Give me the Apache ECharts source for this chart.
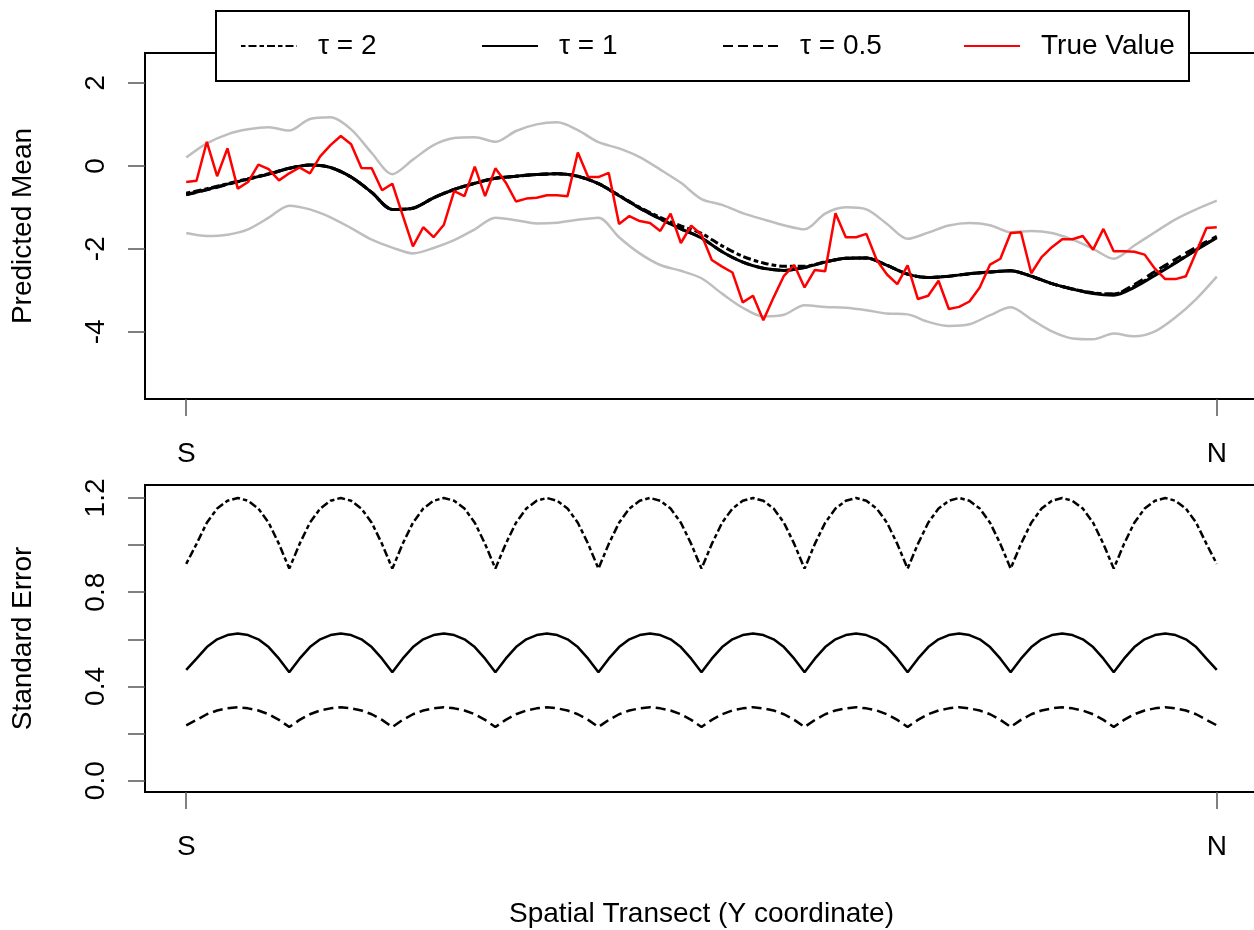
<!DOCTYPE html>
<html>
<head>
<meta charset="utf-8">
<script src="https://cdn.jsdelivr.net/npm/echarts@6/dist/echarts.min.js"></script>
<style>html,body{margin:0;padding:0;background:#fff}#c{width:1254px;height:930px}</style>
</head>
<body>
<div id="c"></div>
<script>
// ---- data (transect index 0 = S, 100 = N) ----
const tickPos = [0, 100];
const tickNames = ['S', 'N'];
const meanTicks = [-4, -2, 0, 2];
const seTicks = [0, 0.2, 0.4, 0.6, 0.8, 1.0, 1.2];
const seLabelTicks = [0, 0.4, 0.8, 1.2];

const coarsePos = [0,2,4,6,8,10,12,14,16,18,20,22,24,26,28,30,32,34,36,38,40,42,44,46,48,50,
  52,54,56,58,60,62,64,66,68,70,72,74,76,78,80,82,84,86,88,90,92,94,96,98,100];

const meanTau1 = [-0.69,-0.57,-0.44,-0.32,-0.20,-0.06,0.02,-0.04,-0.27,-0.64,-1.05,-1.02,-0.77,-0.57,-0.42,-0.30,-0.25,
  -0.21,-0.19,-0.25,-0.43,-0.72,-1.02,-1.28,-1.52,-1.74,-2.07,-2.32,-2.47,-2.52,-2.45,-2.32,-2.23,-2.22,-2.40,-2.61,
  -2.69,-2.66,-2.60,-2.56,-2.53,-2.66,-2.84,-2.97,-3.08,-3.12,-2.93,-2.64,-2.34,-2.03,-1.73];
const meanTau2 = [-0.66,-0.55,-0.43,-0.31,-0.19,-0.06,0.02,-0.04,-0.27,-0.64,-1.05,-1.02,-0.77,-0.57,-0.42,-0.30,-0.25,
  -0.21,-0.19,-0.25,-0.43,-0.71,-1.00,-1.24,-1.45,-1.63,-1.93,-2.18,-2.34,-2.42,-2.42,-2.31,-2.23,-2.22,-2.40,-2.61,
  -2.69,-2.66,-2.60,-2.56,-2.53,-2.66,-2.84,-2.97,-3.06,-3.09,-2.90,-2.62,-2.33,-2.02,-1.72];
const meanTau05 = [-0.70,-0.58,-0.45,-0.32,-0.20,-0.06,0.02,-0.04,-0.27,-0.64,-1.05,-1.02,-0.77,-0.57,-0.42,-0.30,-0.25,
  -0.21,-0.19,-0.25,-0.43,-0.72,-1.02,-1.28,-1.52,-1.74,-2.07,-2.32,-2.47,-2.52,-2.45,-2.32,-2.23,-2.22,-2.40,-2.61,
  -2.69,-2.66,-2.60,-2.56,-2.53,-2.66,-2.84,-2.97,-3.07,-3.09,-2.86,-2.55,-2.25,-1.96,-1.70];
const upperBand = [0.20,0.54,0.76,0.88,0.93,0.85,1.13,1.17,0.88,0.31,-0.20,0.15,0.50,0.67,0.69,0.58,0.84,1.00,1.05,0.86,
  0.57,0.42,0.21,-0.09,-0.41,-0.80,-0.94,-1.14,-1.29,-1.43,-1.53,-1.15,-1.00,-1.05,-1.40,-1.76,-1.61,-1.44,-1.38,-1.43,
  -1.60,-1.57,-1.62,-1.78,-2.00,-2.24,-1.92,-1.60,-1.29,-1.05,-0.84];
const lowerBand = [-1.62,-1.69,-1.66,-1.53,-1.25,-0.96,-1.05,-1.24,-1.50,-1.78,-1.97,-2.11,-1.98,-1.79,-1.53,-1.25,-1.31,
  -1.39,-1.37,-1.30,-1.25,-1.72,-2.11,-2.39,-2.53,-2.71,-3.08,-3.42,-3.63,-3.59,-3.36,-3.40,-3.42,-3.48,-3.56,-3.58,
  -3.76,-3.86,-3.82,-3.60,-3.41,-3.70,-3.99,-4.16,-4.18,-4.04,-4.11,-3.99,-3.65,-3.21,-2.67];

const trueValue = [-0.39,-0.36,0.58,-0.25,0.42,-0.55,-0.39,0.03,-0.08,-0.35,
  -0.18,-0.04,-0.18,0.23,0.50,0.72,0.52,-0.05,-0.06,-0.59,
  -0.43,-1.19,-1.94,-1.48,-1.72,-1.42,-0.61,-0.73,-0.02,-0.73,
  -0.06,-0.40,-0.86,-0.79,-0.77,-0.71,-0.71,-0.73,0.32,-0.27,
  -0.27,-0.17,-1.40,-1.21,-1.33,-1.38,-1.57,-1.15,-1.86,-1.44,
  -1.66,-2.27,-2.43,-2.57,-3.29,-3.13,-3.72,-3.17,-2.65,-2.39,
  -2.93,-2.51,-2.54,-1.14,-1.72,-1.72,-1.64,-2.27,-2.62,-2.85,
  -2.40,-3.21,-3.13,-2.77,-3.45,-3.40,-3.27,-2.93,-2.38,-2.24,
  -1.62,-1.60,-2.59,-2.20,-1.96,-1.77,-1.77,-1.69,-2.02,-1.52,
  -2.06,-2.06,-2.07,-2.14,-2.48,-2.73,-2.73,-2.66,-2.08,-1.50,
  -1.48];

const seTau2 = [0.92,
  1.005,1.095,1.155,1.188,1.2,1.188,1.155,1.095,1.005,0.9,
  1.005,1.095,1.155,1.188,1.2,1.188,1.155,1.095,1.005,0.9,
  1.005,1.095,1.155,1.188,1.2,1.188,1.155,1.095,1.005,0.9,
  1.005,1.095,1.155,1.188,1.2,1.188,1.155,1.095,1.005,0.9,
  1.005,1.095,1.155,1.188,1.2,1.188,1.155,1.095,1.005,0.9,
  1.005,1.095,1.155,1.188,1.2,1.188,1.155,1.095,1.005,0.9,
  1.005,1.095,1.155,1.188,1.2,1.188,1.155,1.095,1.005,0.9,
  1.005,1.095,1.155,1.188,1.2,1.188,1.155,1.095,1.005,0.9,
  1.005,1.095,1.155,1.188,1.2,1.188,1.155,1.095,1.005,0.9,
  1.005,1.095,1.155,1.188,1.2,1.188,1.155,1.095,1.005,0.92];
const seTau1 = [0.47,
  0.518,0.567,0.600,0.618,0.625,0.618,0.600,0.567,0.518,0.46,
  0.518,0.567,0.600,0.618,0.625,0.618,0.600,0.567,0.518,0.46,
  0.518,0.567,0.600,0.618,0.625,0.618,0.600,0.567,0.518,0.46,
  0.518,0.567,0.600,0.618,0.625,0.618,0.600,0.567,0.518,0.46,
  0.518,0.567,0.600,0.618,0.625,0.618,0.600,0.567,0.518,0.46,
  0.518,0.567,0.600,0.618,0.625,0.618,0.600,0.567,0.518,0.46,
  0.518,0.567,0.600,0.618,0.625,0.618,0.600,0.567,0.518,0.46,
  0.518,0.567,0.600,0.618,0.625,0.618,0.600,0.567,0.518,0.46,
  0.518,0.567,0.600,0.618,0.625,0.618,0.600,0.567,0.518,0.46,
  0.518,0.567,0.600,0.618,0.625,0.618,0.600,0.567,0.518,0.47];
const seTau05 = [0.235,
  0.258,0.282,0.298,0.307,0.312,0.307,0.298,0.282,0.258,0.228,
  0.258,0.282,0.298,0.307,0.312,0.307,0.298,0.282,0.258,0.228,
  0.258,0.282,0.298,0.307,0.312,0.307,0.298,0.282,0.258,0.228,
  0.258,0.282,0.298,0.307,0.312,0.307,0.298,0.282,0.258,0.228,
  0.258,0.282,0.298,0.307,0.312,0.307,0.298,0.282,0.258,0.228,
  0.258,0.282,0.298,0.307,0.312,0.307,0.298,0.282,0.258,0.228,
  0.258,0.282,0.298,0.307,0.312,0.307,0.298,0.282,0.258,0.228,
  0.258,0.282,0.298,0.307,0.312,0.307,0.298,0.282,0.258,0.228,
  0.258,0.282,0.298,0.307,0.312,0.307,0.298,0.282,0.258,0.228,
  0.258,0.282,0.298,0.307,0.312,0.307,0.298,0.282,0.258,0.235];

// ---- build ----
const FONT = '"Liberation Sans", Arial, Helvetica, sans-serif';
const fine = arr => arr.map((v, i) => [i, v]);
const coarse = arr => arr.map((v, i) => [coarsePos[i], v]);
const DASHDOT = [4.5, 3, 8, 3];
const DASHED = [10, 5];

function xAxisFor(grid, extra) {
  return Object.assign({
    type: 'value', gridIndex: grid, min: -4, max: 104,
    splitLine: {show: false},
    axisLine: {show: false, onZero: false},
    axisTick: {show: true, inside: false, length: 17, customValues: tickPos,
      lineStyle: {color: '#555', width: 1.5}},
    axisLabel: {customValues: tickPos, margin: 41, fontSize: 28, color: '#000', fontFamily: FONT,
      formatter: v => tickNames[tickPos.indexOf(v)] || ''}
  }, extra || {});
}

function lineSeries(name, xi, data, color, width, type, z, smooth) {
  return {type: 'line', name: name, xAxisIndex: xi, yAxisIndex: xi, data: data,
    symbol: 'none', showSymbol: false, smooth: smooth || false, z: z || 2,
    itemStyle: {color: color, opacity: 0},
    lineStyle: {color: color, width: width, type: type, cap: 'butt'}};
}

const option = {
  animation: false,
  backgroundColor: '#ffffff',
  textStyle: {fontFamily: FONT},
  legend: {
    left: 216, top: 11,
    orient: 'horizontal',
    itemWidth: 56, itemHeight: 14, itemGap: 0,
    padding: [19, 8, 19, 24],
    backgroundColor: '#ffffff', borderColor: '#000', borderWidth: 2, borderRadius: 0,
    selectedMode: false,
    itemStyle: {opacity: 0},
    textStyle: {fontSize: 28, color: '#000', fontFamily: FONT, width: 163, lineHeight: 32, padding: [0, 0, 0, 16]},
    data: [
      {name: 'τ = 2'}, {name: 'τ = 1'}, {name: 'τ = 0.5'},
      {name: 'True Value', textStyle: {width: 140}}
    ]
  },
  grid: [
    {left: 145, top: 53, width: 1113, height: 346, show: true, borderColor: '#000', borderWidth: 2,
      backgroundColor: 'transparent', outerBoundsMode: 'none', containLabel: false},
    {left: 145, top: 485, width: 1113, height: 307, show: true, borderColor: '#000', borderWidth: 2,
      backgroundColor: 'transparent', outerBoundsMode: 'none', containLabel: false}
  ],
  xAxis: [
    xAxisFor(0),
    xAxisFor(1, {name: 'Spatial Transect (Y coordinate)', nameLocation: 'middle', nameGap: 108,
      nameTextStyle: {fontSize: 28, color: '#000', fontFamily: FONT}})
  ],
  yAxis: [
    {type: 'value', gridIndex: 0, min: -5.62, max: 2.72,
      name: 'Predicted Mean', nameLocation: 'middle', nameRotate: 90, nameGap: 108,
      nameTextStyle: {fontSize: 28, color: '#000', fontFamily: FONT},
      splitLine: {show: false}, axisLine: {show: false, onZero: false},
      axisTick: {show: true, length: 17, customValues: meanTicks, lineStyle: {color: '#555', width: 1.5}},
      axisLabel: {customValues: meanTicks, rotate: 90, margin: 35, fontSize: 28, color: '#000', fontFamily: FONT,
        formatter: v => String(v)}},
    {type: 'value', gridIndex: 1, min: -0.048, max: 1.255,
      name: 'Standard Error', nameLocation: 'middle', nameRotate: 90, nameGap: 108,
      nameTextStyle: {fontSize: 28, color: '#000', fontFamily: FONT},
      splitLine: {show: false}, axisLine: {show: false, onZero: false},
      axisTick: {show: true, length: 17, customValues: seTicks, lineStyle: {color: '#555', width: 1.5}},
      axisLabel: {customValues: seLabelTicks, rotate: 90, margin: 35, fontSize: 28, color: '#000', fontFamily: FONT,
        formatter: v => v.toFixed(1)}}
  ],
  series: [
    lineSeries('upper', 0, coarse(upperBand), '#bebebe', 2.5, 'solid', 1, 0.3),
    lineSeries('lower', 0, coarse(lowerBand), '#bebebe', 2.5, 'solid', 1, 0.3),
    lineSeries('τ = 2', 0, coarse(meanTau2), '#000000', 3, DASHDOT, 2, 0.3),
    lineSeries('τ = 1', 0, coarse(meanTau1), '#000000', 3, 'solid', 2, 0.3),
    lineSeries('τ = 0.5', 0, coarse(meanTau05), '#000000', 3, DASHED, 2, 0.3),
    lineSeries('True Value', 0, fine(trueValue), '#ff0000', 2.5, 'solid', 3),
    lineSeries('τ = 2', 1, fine(seTau2), '#000000', 2.5, DASHDOT, 2),
    lineSeries('τ = 1', 1, fine(seTau1), '#000000', 2.5, 'solid', 2),
    lineSeries('τ = 0.5', 1, fine(seTau05), '#000000', 2.5, DASHED, 2)
  ]
};

const chart = echarts.init(document.getElementById('c'), null, {renderer: 'canvas'});
chart.setOption(option);
</script>
</body>
</html>
